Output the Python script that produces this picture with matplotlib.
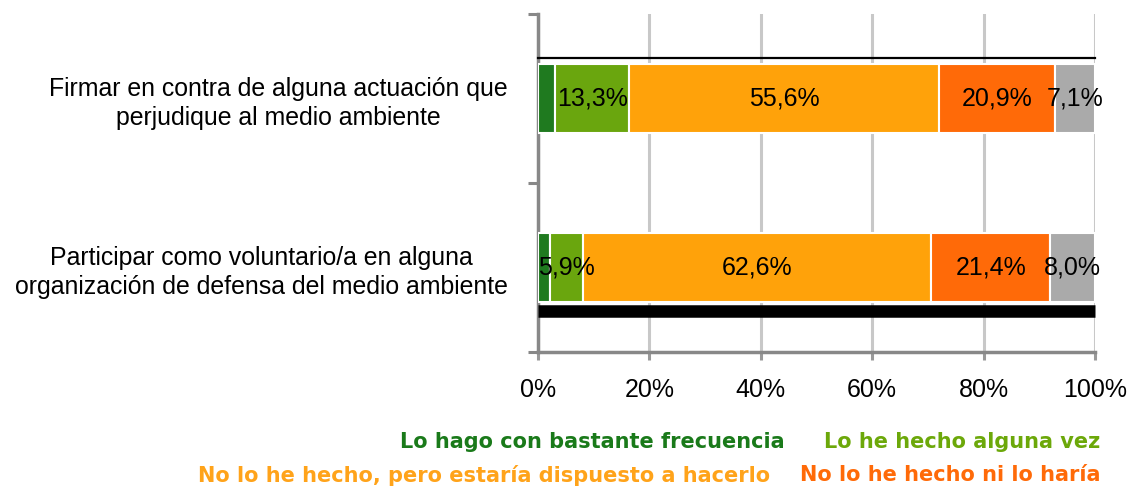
import numpy as np
import matplotlib.pyplot as plt

plt.rcParams['font.family'] = ['Liberation Sans', 'DejaVu Sans']

categorias = ["Firmar en contra de alguna actuación que\nperjudique al medio ambiente",
              "Participar como voluntario/a en alguna\norganización de defensa del medio ambiente"]
series = ["Lo hago con bastante frecuencia", "Lo he hecho alguna vez",
          "No lo he hecho, pero estaría dispuesto a hacerlo", "No lo he hecho ni lo haría",
          "NS/NC"]
frecuencia = [3.1, 2.1]
alguna_vez = [13.3, 5.9]
dispuesto = [55.6, 62.6]
no_haria = [20.9, 21.4]
nsnc = [7.1, 8.0]
colores = ["#1f7a1f", "#6aa60e", "#ffa20a", "#ff6a08", "#aaaaaa"]
colores_txt = ["#1a7a1a", "#6ca80a", "#ffa31a", "#ff6a08"]

valores = [frecuencia, alguna_vez, dispuesto, no_haria, nsnc]
y = np.arange(len(categorias))

fig = plt.figure(figsize=(11.36, 4.88), dpi=100)
ax = fig.add_axes([538/1136, 1-352/488, (1095-538)/1136, (352-14)/488])

left = np.zeros(len(categorias))
for i, vals in enumerate(valores):
    vals = np.array(vals)
    ax.barh(y, vals, left=left, height=0.41, color=colores[i],
            edgecolor="white", linewidth=1.5, zorder=3)
    if i > 0:
        for j in range(len(y)):
            ax.text(left[j] + vals[j]/2, y[j], f"{vals[j]:.1f}%".replace(".", ","),
                    ha="center", va="center", fontsize=18, zorder=5)
    left += vals

# lineas negras del original
ax.plot([0, 100], [y[0]-0.24, y[0]-0.24], color="black", lw=1.6, zorder=4, clip_on=False)
ax.plot([0, 100], [y[1]+0.257, y[1]+0.257], color="black", lw=9, zorder=4,
        solid_capstyle="butt", clip_on=False)

ax.set_xlim(0, 100)
ax.set_ylim(1.5, -0.5)
ax.set_xticks(np.arange(0, 101, 20))
ax.set_xticklabels([f"{v}%" for v in range(0, 101, 20)], fontsize=18)
ax.set_yticks([-0.5, 0.5, 1.5])
ax.set_yticklabels([])
ax.set_yticks(y, minor=True)
ax.set_yticklabels(categorias, minor=True, fontsize=17.9, ha="right",
                   multialignment="center", linespacing=1.25)
ax.tick_params(axis="y", which="minor", length=0, pad=22)
ax.tick_params(axis="y", which="major", length=7, width=2.2, color="#888888")
ax.tick_params(axis="x", length=6, width=2.2, color="#999999", pad=13)
ax.grid(axis="x", color="#c8c8c8", lw=2.2, zorder=0)
for s in ["top", "right"]:
    ax.spines[s].set_visible(False)
for s in ["left", "bottom"]:
    ax.spines[s].set_color("#888888")
    ax.spines[s].set_linewidth(2.5)

ley = dict(fontsize=15, fontweight="bold", family="DejaVu Sans", ha="right", va="center")
fig.text(785/1136, 1-442/488, series[0], color=colores_txt[0], **ley)
fig.text(1100/1136, 1-442/488, series[1], color=colores_txt[1], **ley)
fig.text(770/1136, 1-475/488, series[2], color=colores_txt[2], **ley)
fig.text(1100/1136, 1-475/488, series[3], color=colores_txt[3], **ley)

fig.savefig("out.png", dpi=100)
